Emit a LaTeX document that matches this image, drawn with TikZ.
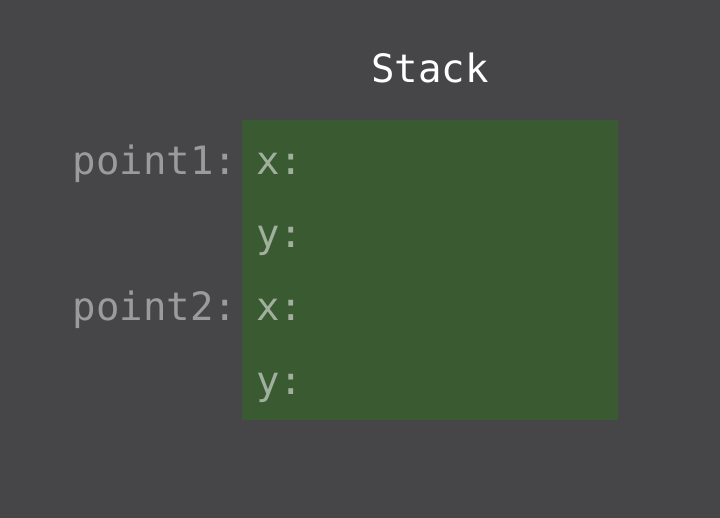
\documentclass[tikz,border=0pt]{standalone}
\usepackage{fontspec}
\setmonofont{DejaVu Sans Mono}
\definecolor{c464648}{RGB}{70,70,72}
\definecolor{c3a5a32}{RGB}{58,90,50}
\definecolor{c9b9b9d}{RGB}{155,155,157}
\definecolor{ca0b09c}{RGB}{160,176,156}

\begin{document}
\begin{tikzpicture}[y=1pt, x=1pt,yscale=-1, inner sep=0pt, outer sep=0pt,
  every node/.style={font=\ttfamily\fontsize{39}{47}\selectfont}]
  \path[fill=c464648,use as bounding box] (0,0) rectangle (720,518);
  \path[fill=c3a5a32] (242,120) rectangle (618,420);
  \path (430,83) node[anchor=base,text=white] (stacktitle) {Stack};
  \path (237,175) node[anchor=base east,text=c9b9b9d] (point1) {point1:};
  \path (237,321) node[anchor=base east,text=c9b9b9d] (point2) {point2:};
  \path (256,175) node[anchor=base west,text=ca0b09c] (p1x) {x:};
  \path (256,248) node[anchor=base west,text=ca0b09c] (p1y) {y:};
  \path (256,321) node[anchor=base west,text=ca0b09c] (p2x) {x:};
  \path (256,394) node[anchor=base west,text=ca0b09c] (p2y) {y:};
\end{tikzpicture}
\end{document}
